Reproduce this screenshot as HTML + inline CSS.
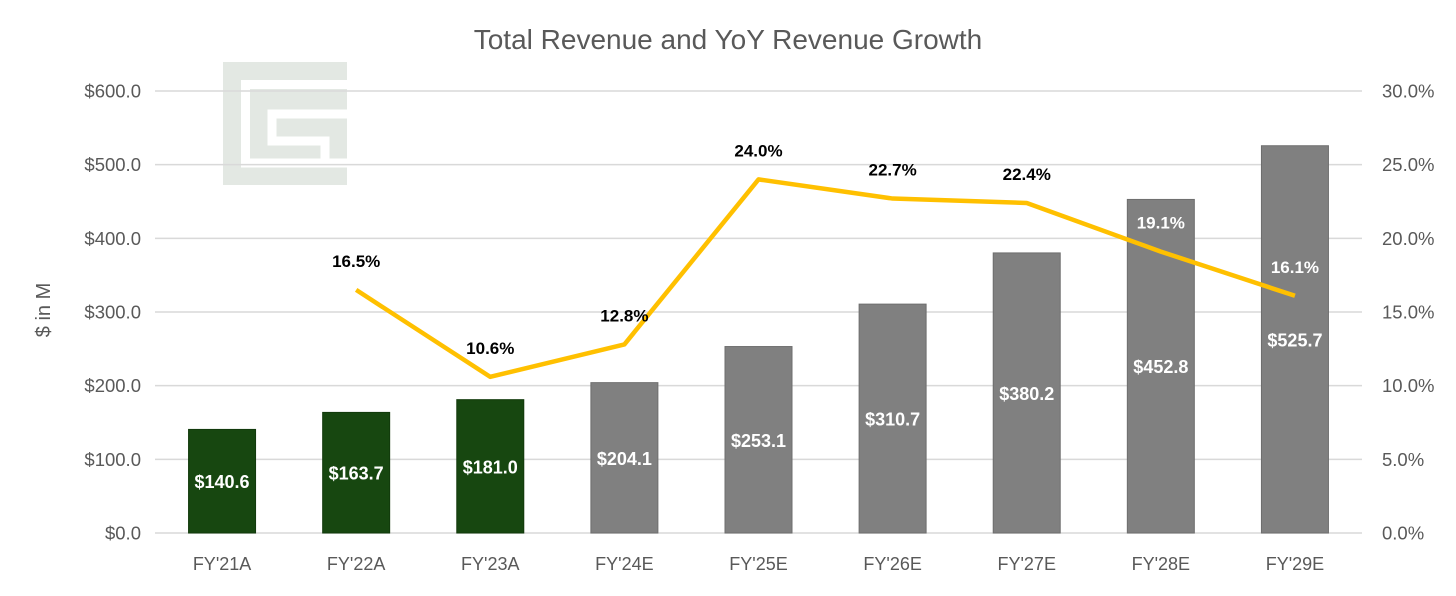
<!DOCTYPE html>
<html><head><meta charset="utf-8"><style>
body{margin:0;background:#fff;}
svg text{font-family:"Liberation Sans",sans-serif;}
</style></head><body>
<svg width="1456" height="591" viewBox="0 0 1456 591">
<rect width="1456" height="591" fill="#fff"/>
<text x="728" y="49" text-anchor="middle" font-size="28" fill="#595959">Total Revenue and YoY Revenue Growth</text>
<g>
<rect x="223" y="62" width="124" height="123" fill="#e3e8e3"/>
<path d="M347,84.5 H245.5 V163 H347" fill="none" stroke="#fff" stroke-width="9"/>
<path d="M347,114 H272 V141 H325 V163" fill="none" stroke="#fff" stroke-width="9"/>
</g>
<text transform="translate(50,310) rotate(-90)" text-anchor="middle" font-size="20" fill="#595959">$ in M</text>
<g id="grid"></g><g id="bars"></g><g id="line"></g><g id="labels"></g>
</svg>
<script>
const categories=["FY'21A","FY'22A","FY'23A","FY'24E","FY'25E","FY'26E","FY'27E","FY'28E","FY'29E"];
const revenue=[140.6,163.7,181.0,204.1,253.1,310.7,380.2,452.8,525.7];
const actual=[true,true,true,false,false,false,false,false,false];
const growth=[null,16.5,10.6,12.8,24.0,22.7,22.4,19.1,16.1];
const leftTicks=[0,100,200,300,400,500,600];
const rightTicks=[0,5,10,15,20,25,30];
const NS="http://www.w3.org/2000/svg";
const x0=155,x1=1362,y0=533,yTop=91;
const band=(x1-x0)/categories.length;
const xc=i=>x0+band*(i+0.5);
const yL=v=>y0-(v/600)*(y0-yTop);
const yR=v=>y0-(v/30)*(y0-yTop);
function mk(tag,attrs,parent,txt){const e=document.createElementNS(NS,tag);for(const k in attrs)e.setAttribute(k,attrs[k]);if(txt!==undefined)e.textContent=txt;document.getElementById(parent).appendChild(e);return e;}
leftTicks.forEach((t,i)=>{
 const g=mk('line',{x1:x0,x2:x1,y1:yL(t),y2:yL(t),stroke:'#d9d9d9','stroke-width':1.5},'grid');
 
 
 const l=mk('text',{x:141,y:yL(t)+6.5,'text-anchor':'end','font-size':18.5,fill:'#595959'},'grid','$'+t.toFixed(1));
 
 
});
rightTicks.forEach(t=>{
 const l=mk('text',{x:1382,y:yR(t)+6.5,'font-size':18.5,fill:'#595959'},'grid',t.toFixed(1)+'%');
 
 
});
const bw=67;
revenue.forEach((v,i)=>{
 const b=mk('rect',{x:xc(i)-bw/2,y:yL(v),width:bw,height:y0-yL(v),fill:actual[i]?'#174710':'#808080',stroke:actual[i]?'#123a0c':'#6e6e6e','stroke-width':1},'bars');
 
 
 const t=mk('text',{x:xc(i),y:(yL(v)+y0)/2+7,'text-anchor':'middle','font-size':18,'font-weight':'bold',fill:'#fff'},'labels','$'+v.toFixed(1));
 
 
 const c=mk('text',{x:xc(i),y:y0+37,'text-anchor':'middle','font-size':18,fill:'#595959'},'labels',categories[i]);
 
 
});
let d='';
growth.forEach((g,i)=>{if(g===null)return;d+=(d?'L':'M')+xc(i)+','+yR(g);});
const p=mk('path',{d:d,fill:'none',stroke:'#FFC000','stroke-width':4.5,'stroke-linejoin':'round'},'line');


growth.forEach((g,i)=>{if(g===null)return;
 const inside=yR(g)-29>yL(revenue[i]);
 const t=mk('text',{x:xc(i),y:yR(g)-23,'text-anchor':'middle','font-size':17,'font-weight':'bold',fill:inside?'#fff':'#000'},'labels',g.toFixed(1)+'%');
 
 
});
</script>
</body></html>
